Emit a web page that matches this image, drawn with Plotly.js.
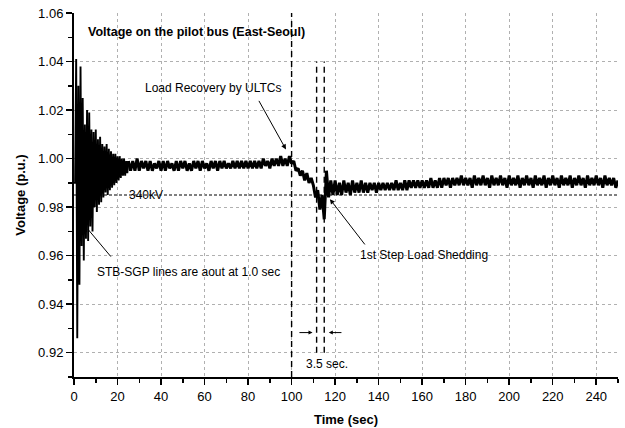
<!DOCTYPE html>
<html>
<head>
<meta charset="utf-8">
<script src="https://cdn.plot.ly/plotly-3.0.1.min.js"></script>
<style>html,body{margin:0;padding:0;background:#fff;}#chart{width:625px;height:428px;}</style>
</head>
<body>
<div id="chart"></div>
<script>
// Early transient, sampled every 0.5 s from t = 0 to t = 25 s
var earlyStart = 0, earlyStep = 0.5;
var earlyVoltage = [0.990,0.990,1.041,0.926,1.030,0.948,1.038,0.964,1.025,0.958,
  1.014,0.967,1.020,0.966,1.019,0.972,1.012,0.970,1.011,0.980,
  1.012,0.978,1.008,0.981,1.009,0.982,1.006,0.984,1.005,0.986,
  1.006,0.985,1.004,0.987,1.003,0.988,1.002,0.989,1.002,0.990,
  1.001,0.991,1.001,0.992,1.000,0.993,1.000,0.993,0.999,0.994,0.999];

// Remainder, sampled every 1 s from t = 25 to t = 250 s
var lateStart = 25, lateStep = 1;
var lateVoltage = [
  0.999,0.995,0.999,0.995,1.000,0.995,0.999,0.996,0.999,0.995, // 25-34
  0.999,0.995,0.998,0.996,0.999,0.995,0.999,0.995,0.999,0.996, // 35-44
  0.998,0.995,0.999,0.995,0.999,0.996,0.999,0.995,0.998,0.995, // 45-54
  0.999,0.996,0.999,0.995,0.999,0.996,0.998,0.995,0.999,0.996, // 55-64
  0.999,0.995,0.999,0.996,0.999,0.996,0.998,0.996,0.999,0.996, // 65-74
  0.999,0.996,0.999,0.996,0.999,0.996,0.999,0.996,0.999,0.996, // 75-84
  0.999,0.996,1.000,0.997,0.999,0.996,1.000,0.997,1.000,0.997, // 85-94
  1.001,0.997,1.000,0.997,1.001,                               // 95-99
  0.998,0.999,0.995,0.996,0.993,0.995,0.991,0.994,0.990,0.992, // 100-109
  0.989,0.984,0.987,0.979,0.985,0.975,                         // 110-115
  0.995,0.984,0.991,0.985,0.991,0.985,0.990,0.985,0.991,0.986, // 116-125
  0.990,0.985,0.991,0.986,0.990,0.986,0.991,0.986,0.990,0.986, // 126-135
  0.990,0.987,0.990,0.986,0.990,0.987,0.990,0.987,0.990,0.987, // 136-145
  0.990,0.987,0.991,0.987,0.990,0.987,0.991,0.987,0.991,0.988, // 146-155
  0.991,0.988,0.991,0.988,0.991,0.988,0.991,0.988,0.992,0.988, // 156-165
  0.991,0.988,0.992,0.988,0.992,0.989,0.992,0.988,0.992,0.989, // 166-175
  0.992,0.989,0.993,0.989,0.992,0.989,0.992,0.988,0.993,0.989, // 176-185
  0.992,0.989,0.993,0.989,0.992,0.988,0.993,0.989,0.992,0.989, // 186-195
  0.993,0.989,0.992,0.988,0.993,0.989,0.992,0.989,0.993,0.988, // 196-205
  0.992,0.989,0.993,0.989,0.992,0.988,0.993,0.989,0.992,0.989, // 206-215
  0.993,0.988,0.992,0.989,0.993,0.989,0.992,0.988,0.993,0.989, // 216-225
  0.992,0.989,0.993,0.988,0.992,0.989,0.993,0.989,0.992,0.988, // 226-235
  0.993,0.989,0.992,0.989,0.993,0.989,0.992,0.988,0.993,0.989, // 236-245
  0.992,0.989,0.992,0.988,0.991                                // 246-250
];

// Reference level and event markers
var refLevel = 0.985;
var refLabel = "340kV";
var eventTimes = [100, 111.5, 115];
var xTicks = [0,20,40,60,80,100,120,140,160,180,200,220,240];
var yTicks = [0.92,0.94,0.96,0.98,1.00,1.02,1.04,1.06];

var FONT = "Arial, 'Liberation Sans', sans-serif";

var traces = [
  {type:"scatter", mode:"lines", x0:earlyStart, dx:earlyStep, y:earlyVoltage,
   line:{color:"#000", width:1.9}, hoverinfo:"skip", showlegend:false},
  {type:"scatter", mode:"lines", x0:lateStart, dx:lateStep, y:lateVoltage,
   line:{color:"#000", width:3}, hoverinfo:"skip", showlegend:false}
];

var shapes = [
  {type:"line", xref:"x", yref:"y", x0:0, x1:250, y0:refLevel, y1:refLevel,
   line:{color:"#000", width:1, dash:"3px,2px"}, layer:"below"},
  {type:"line", xref:"x", yref:"paper", x0:eventTimes[0], x1:eventTimes[0], y0:0, y1:1,
   line:{color:"#000", width:1.4, dash:"6px,4px"}},
  {type:"line", xref:"x", yref:"y", x0:eventTimes[1], x1:eventTimes[1], y0:0.92, y1:1.04,
   line:{color:"#000", width:1.4, dash:"6px,4px"}},
  {type:"line", xref:"x", yref:"y", x0:eventTimes[2], x1:eventTimes[2], y0:0.92, y1:1.04,
   line:{color:"#000", width:1.4, dash:"6px,4px"}}
];

var tf = {family:FONT, size:12, color:"#000"};
var annotations = [
  {xref:"x", yref:"y", x:5.5, y:1.0523, xanchor:"left", showarrow:false,
   text:"<b>Voltage on the pilot bus (East-Seoul)</b>", font:{family:FONT, size:12.5, color:"#000"}},
  {xref:"x", yref:"y", x:64.3, y:1.0289, showarrow:false, text:"Load Recovery by ULTCs", font:tf},
  {xref:"x", yref:"y", x:97.4, y:1.0038, axref:"x", ayref:"y", ax:84.6, ay:1.0244,
   showarrow:true, arrowhead:2, arrowsize:1, arrowwidth:1, arrowcolor:"#000", text:""},
  {xref:"x", yref:"y", x:33, y:refLevel, showarrow:false, text:refLabel, font:tf,
   bgcolor:"rgba(255,255,255,0)"},
  {xref:"x", yref:"y", x:52.4, y:0.9533, showarrow:false, text:"STB-SGP lines are aout at 1.0 sec", font:tf},
  {xref:"x", yref:"y", x:6.4, y:0.9709, axref:"x", ayref:"y", ax:17.5, ay:0.959,
   showarrow:true, arrowhead:0, arrowwidth:1, arrowcolor:"#000", text:""},
  {xref:"x", yref:"y", x:160.8, y:0.9603, showarrow:false, text:"1st Step Load Shedding", font:tf},
  {xref:"x", yref:"y", x:117.6, y:0.9833, axref:"x", ayref:"y", ax:134.2, ay:0.964,
   showarrow:true, arrowhead:2, arrowsize:1, arrowwidth:1, arrowcolor:"#000", text:""},
  {xref:"x", yref:"y", x:109.6, y:0.9283, axref:"x", ayref:"y", ax:102.9, ay:0.9283,
   showarrow:true, arrowhead:2, arrowsize:0.8, arrowwidth:1, arrowcolor:"#000", text:""},
  {xref:"x", yref:"y", x:117.1, y:0.9283, axref:"x", ayref:"y", ax:123.6, ay:0.9283,
   showarrow:true, arrowhead:2, arrowsize:0.8, arrowwidth:1, arrowcolor:"#000", text:""},
  {xref:"x", yref:"y", x:116.3, y:0.9155, showarrow:false, text:"3.5 sec.", font:tf}
];

var layout = {
  width:625, height:428,
  margin:{l:74, r:7, t:13, b:51, pad:0},
  paper_bgcolor:"#fff", plot_bgcolor:"#fff",
  showlegend:false,
  font:{family:FONT, size:13, color:"#000"},
  xaxis:{
    range:[0,250], tickvals:xTicks, ticktext:xTicks.map(String),
    showline:true, linecolor:"#000", linewidth:2, ticks:"outside", ticklen:6, tickwidth:1.5, tickcolor:"#000",
    showgrid:true, gridcolor:"#b0b0b0", griddash:"dot", gridwidth:1, zeroline:false,
    minor:{dtick:10, tick0:0, ticks:"outside", ticklen:4, tickcolor:"#000", showgrid:false},
    tickfont:{family:FONT, size:13, color:"#000"},
    title:{text:"<b>Time (sec)</b>", font:{family:FONT, size:13, color:"#000"}, standoff:12}
  },
  yaxis:{
    range:[0.91,1.06], tickvals:yTicks, tickformat:".2f",
    showline:true, linecolor:"#000", linewidth:2, ticks:"outside", ticklen:6, tickwidth:1.5, tickcolor:"#000",
    showgrid:true, gridcolor:"#b0b0b0", griddash:"dot", gridwidth:1, zeroline:false,
    minor:{dtick:0.01, tick0:0.91, ticks:"outside", ticklen:4, tickcolor:"#000", showgrid:false},
    tickfont:{family:FONT, size:13, color:"#000"},
    title:{text:"<b>Voltage (p.u.)</b>", font:{family:FONT, size:13, color:"#000"}, standoff:10}
  },
  shapes:shapes,
  annotations:annotations
};

Plotly.newPlot("chart", traces, layout, {staticPlot:true, displayModeBar:false});
</script>
</body>
</html>
